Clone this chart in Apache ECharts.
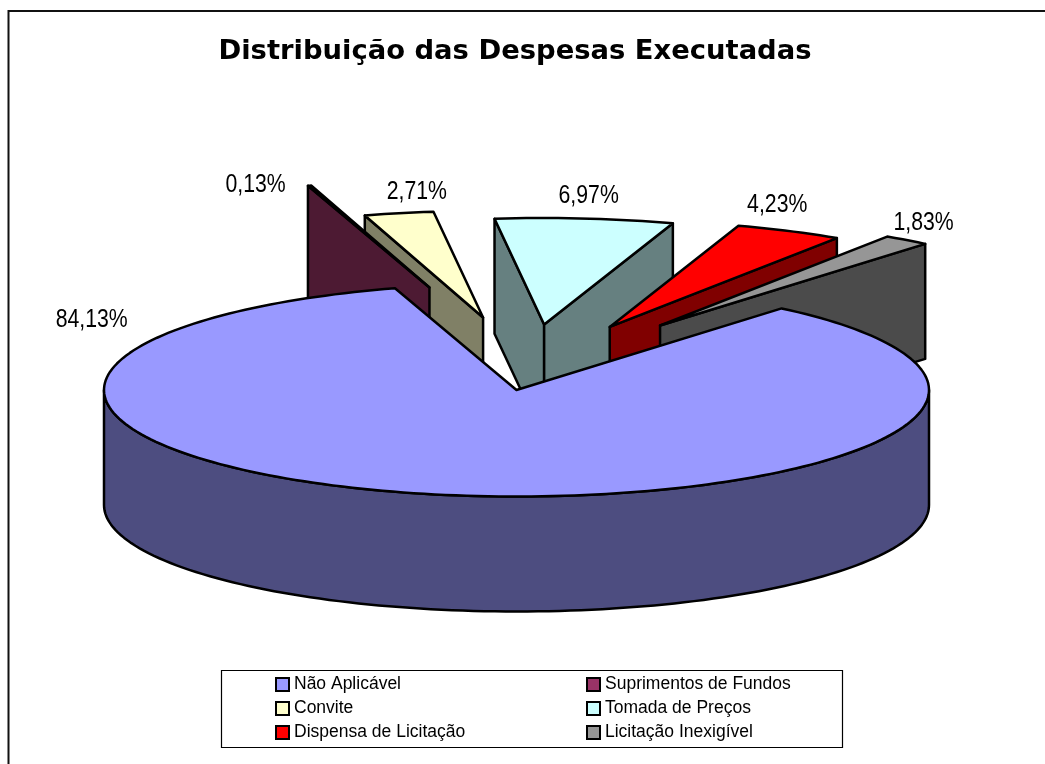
<!DOCTYPE html>
<html><head><meta charset="utf-8"><style>html,body{margin:0;background:#fff}#c{width:1045px;height:764px}</style>
<script src="https://cdn.jsdelivr.net/npm/echarts@6/dist/echarts.min.js"></script></head>
<body><div id="c"></div>
<script>
const titleText = 'Distribuição das Despesas Executadas';
const categories = ['Não Aplicável','Suprimentos de Fundos','Convite','Tomada de Preços','Dispensa de Licitação','Licitação Inexigível'];
const values = [84.13,0.13,2.71,6.97,4.23,1.83];
const labelTexts = ['84,13%','0,13%','2,71%','6,97%','4,23%','1,83%'];
const topColors = ['#9999FF','#993366','#FFFFCC','#CCFFFF','#FF0000','#969696'];
const wallColors = ['#4D4D80','#4D1A33','#808066','#668080','#800000','#4B4B4B'];
// exploded offset of each slice as a fraction of the pie radius [side, back]
const explode = [[0,0],[-0.211,0.962],[-0.081,0.681],[0.067,0.615],[0.226,0.592],[0.348,0.606]];
const labelOffsets = [[-343,-174],[-54,-1],[18,-21],[4,-22],[-12,-26],[17,-17]];
const drawOrder = [2,1,3,4,5,0];
const pie = {cx:516.5, cy:390, rx:412.5, ry:106.5, depth:115, firstAngle:40};
const total = values.reduce((a,b)=>a+b,0);

function sliceAngles(i){
  let a = pie.firstAngle;
  for(let k=0;k<i;k++) a += values[k]/total*360;
  return [a, a+values[i]/total*360];
}
function render(i){
  return function(params, api){
    const v = api.value(0);
    const [a0,a1] = sliceAngles(i);
    const ax = pie.cx + explode[i][0]*pie.rx, ay = pie.cy - explode[i][1]*pie.ry;
    const rim = d => {const r=d*Math.PI/180; return [ax+pie.rx*Math.sin(r), ay-pie.ry*Math.cos(r)];};
    const down = p => [p[0], p[1]+pie.depth];
    const arc = (s,e) => {const pts=[];const n=Math.max(2,Math.ceil((e-s)/1.5));for(let k=0;k<=n;k++)pts.push(rim(s+(e-s)*k/n));return pts;};
    const line = {stroke:'#000', lineWidth:2.5, lineJoin:'round'};
    const children = [];
    const face = d => { const p=rim(d); children.push({type:'polygon',shape:{points:[[ax,ay],p,down(p),[ax,ay+pie.depth]]},style:Object.assign({fill:wallColors[i]},line)}); };
    if(Math.sin(a0*Math.PI/180)<0) face(a0);
    if(Math.sin(a1*Math.PI/180)>0) face(a1);
    const s=Math.max(a0,90), e=Math.min(a1,270);
    if(e>s){ const top=arc(s,e); children.push({type:'polygon',shape:{points:top.concat(top.map(down).reverse())},style:Object.assign({fill:wallColors[i]},line)}); }
    children.push({type:'polygon',shape:{points:[[ax,ay]].concat(arc(a0,a1))},style:Object.assign({fill:topColors[i]},line)});
    const m = rim((a0+a1)/2);
    children.push({type:'text',x:m[0]+labelOffsets[i][0],y:m[1]+labelOffsets[i][1],scaleX:0.85,
      style:{text:labelTexts[i],fill:'#000',font:'25px "Liberation Sans"',textAlign:'center',textVerticalAlign:'middle'}});
    return {type:'group',children};
  };
}
const series = drawOrder.map((i,z)=>({
  type:'custom', name:categories[i], coordinateSystem:'none', silent:true, z:z+2,
  itemStyle:{color:topColors[i]}, data:[[values[i]]], renderItem:render(i)
}));
const legendBase = {orient:'vertical',top:675,itemWidth:13,itemHeight:13,itemGap:5,icon:'rect',selectedMode:false,padding:0,
  itemStyle:{borderColor:'#000',borderWidth:2},
  textStyle:{fontFamily:'"Liberation Sans"',fontSize:17.5,color:'#000',padding:[0,0,0,0],lineHeight:19}};
const chart = echarts.init(document.getElementById('c'),null,{renderer:'canvas'});
chart.setOption({
  animation:false, backgroundColor:'#fff',
  title:{text:titleText,left:510,top:33,textAlign:'center',textStyle:{fontFamily:'"DejaVu Sans"',fontWeight:'bold',fontSize:27.4,color:'#000'}},
  legend:[
    Object.assign({},legendBase,{left:275,data:[categories[0],categories[2],categories[4]]}),
    Object.assign({},legendBase,{left:586,data:[categories[1],categories[3],categories[5]]})
  ],
  graphic:[
    {type:'polyline',silent:true,shape:{points:[[8.5,764],[8.5,11],[1045,11]]},style:{stroke:'#111',lineWidth:2,fill:null}},
    {type:'rect',silent:true,shape:{x:221.5,y:670.5,width:621,height:77},style:{fill:'#fff',stroke:'#000',lineWidth:1.2},z:-1}
  ],
  series
});
</script></body></html>
